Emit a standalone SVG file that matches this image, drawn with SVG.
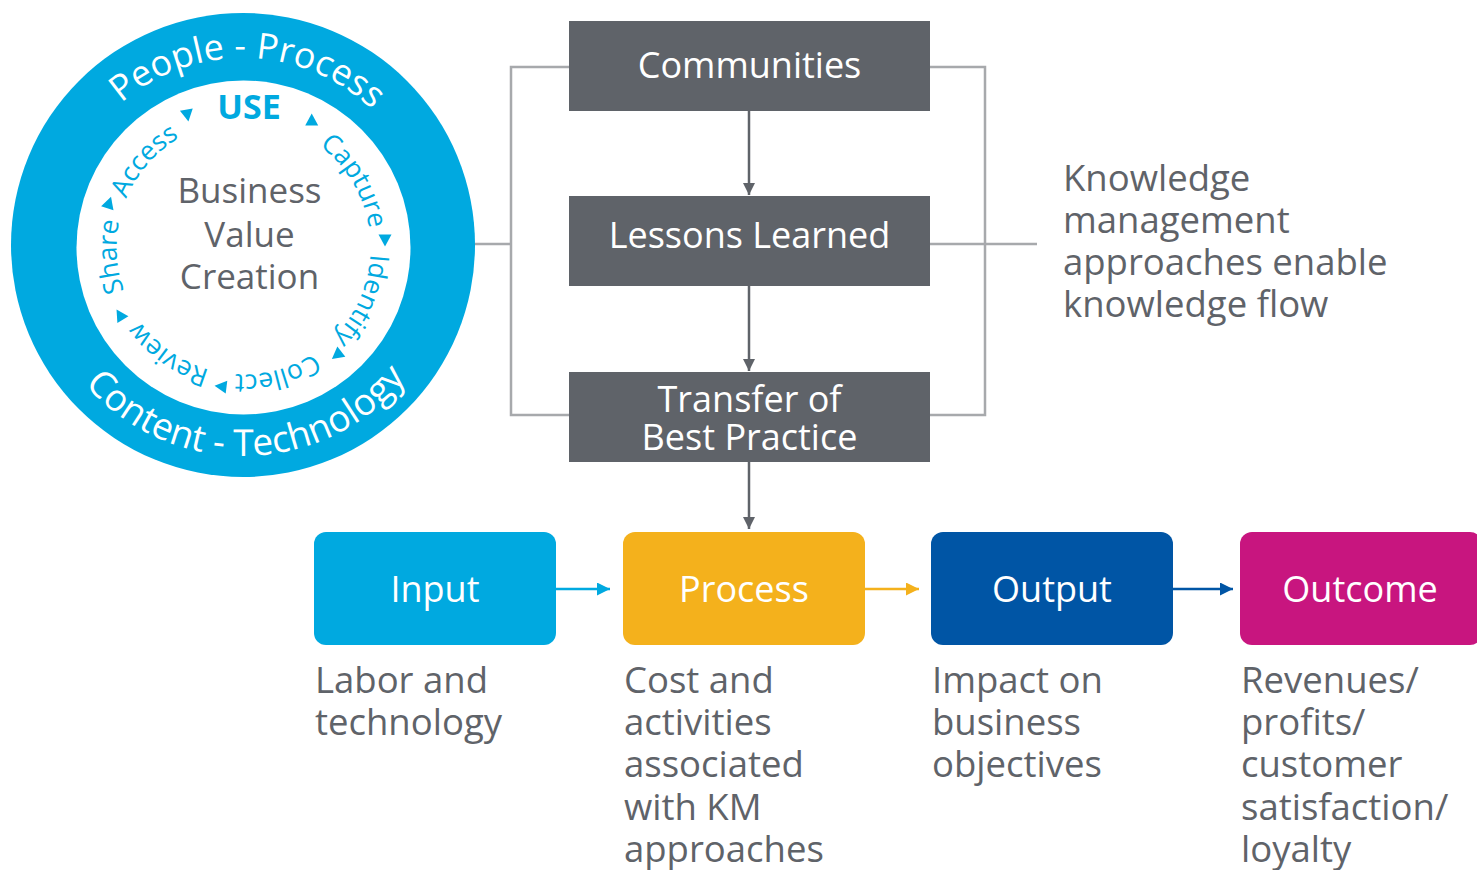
<svg xmlns="http://www.w3.org/2000/svg" width="1477" height="870" viewBox="0 0 1477 870">
  <style>
    text { font-family: "Open Sans", "Noto Sans", "Liberation Sans", sans-serif; }
    .ring { fill: #ffffff; }
    .inner { fill: #00a9e0; font-size: 26.5px; }
    .tri { fill: #00a9e0; }
    .gray-box { fill: #5f6369; }
    .box-label { fill: #ffffff; font-size: 36px; text-anchor: middle; }
    .desc { fill: #5f6369; font-size: 36.5px; }
    .bracket { fill: none; stroke: #a7a9ac; stroke-width: 2.5; }
    .flow { fill: none; stroke: #5f6369; stroke-width: 2.5; }
  </style>
  <defs>
    <path id="ringTop" d="M 243,432 A 187 187 0 1 1 243,58 A 187 187 0 1 1 243,432"/>
    <path id="ringBottom" d="M 243,34 A 211 211 0 1 0 243,456 A 211 211 0 1 0 243,34"/>
    <path id="innerPath" d="M 243.5,120.5 A 127 127 0 1 1 243.5,374.5 A 127 127 0 1 1 243.5,120.5"/>
    <marker id="arrGray" viewBox="0 0 10 10" refX="10" refY="5" markerWidth="17" markerHeight="12" markerUnits="userSpaceOnUse" orient="auto">
      <path d="M0,0 L10,5 L0,10 z" fill="#5f6369"/>
    </marker>
    <marker id="arrCyan" viewBox="0 0 10 10" refX="10" refY="5" markerWidth="19" markerHeight="13" markerUnits="userSpaceOnUse" orient="auto">
      <path d="M0,0 L10,5 L0,10 z" fill="#00a9e0"/>
    </marker>
    <marker id="arrOrange" viewBox="0 0 10 10" refX="10" refY="5" markerWidth="19" markerHeight="13" markerUnits="userSpaceOnUse" orient="auto">
      <path d="M0,0 L10,5 L0,10 z" fill="#f4b11c"/>
    </marker>
    <marker id="arrBlue" viewBox="0 0 10 10" refX="10" refY="5" markerWidth="19" markerHeight="13" markerUnits="userSpaceOnUse" orient="auto">
      <path d="M0,0 L10,5 L0,10 z" fill="#0055a5"/>
    </marker>
    <polygon id="triShape" points="6.5,0 -5.5,-6.5 -5.5,6.5"/>
  </defs>

  <rect width="1477" height="870" fill="#ffffff"/>

  <!-- Knowledge cycle circle -->
  <g id="km-cycle">
    <circle cx="243" cy="245" r="232" fill="#00a9e0"/>
    <circle cx="243.5" cy="247.5" r="167" fill="#ffffff"/>
    <text class="ring" font-size="36"><textPath href="#ringTop" startOffset="592" text-anchor="middle">People - Process</textPath></text>
    <text class="ring" font-size="37"><textPath href="#ringBottom" startOffset="666.6" text-anchor="middle">Content - Technology</textPath></text>
    <text x="249" y="119" fill="#00a9e0" font-size="34" font-weight="bold" text-anchor="middle">USE</text>
    <text class="inner"><textPath href="#innerPath" startOffset="130.8" text-anchor="middle">Capture</textPath></text>
    <text class="inner"><textPath href="#innerPath" startOffset="252.7" text-anchor="middle">Identify</textPath></text>
    <text class="inner"><textPath href="#innerPath" startOffset="365.7" text-anchor="middle">Collect</textPath></text>
    <text class="inner"><textPath href="#innerPath" startOffset="476.6" text-anchor="middle">Review</textPath></text>
    <text class="inner"><textPath href="#innerPath" startOffset="589.6" text-anchor="middle">Share</textPath></text>
    <text class="inner"><textPath href="#innerPath" startOffset="689.4" text-anchor="middle">Access</textPath></text>
    <use href="#triShape" class="tri" transform="translate(187.3,115) rotate(80)"/>
    <use href="#triShape" class="tri" transform="translate(311.7,120) rotate(-90)"/>
    <use href="#triShape" class="tri" transform="translate(385,240) rotate(90)"/>
    <use href="#triShape" class="tri" transform="translate(337,355) rotate(142)"/>
    <use href="#triShape" class="tri" transform="translate(221,386.5) rotate(187)"/>
    <use href="#triShape" class="tri" transform="translate(120,315) rotate(238)"/>
    <use href="#triShape" class="tri" transform="translate(109,203) rotate(288)"/>
    <text fill="#5f6369" font-size="35" text-anchor="middle"><tspan x="249.5" y="203">Business</tspan><tspan x="249.5" y="247">Value</tspan><tspan x="249.5" y="289">Creation</tspan></text>
  </g>

  <!-- Connectors -->
  <g id="connectors">
    <path class="bracket" d="M 475,244 L 511,244"/>
    <path class="bracket" d="M 569,67 L 511,67 L 511,415 L 569,415"/>
    <path class="bracket" d="M 930,67 L 985,67 L 985,415 L 930,415"/>
    <path class="bracket" d="M 930,244 L 1037,244"/>
    <line class="flow" x1="749" y1="111" x2="749" y2="195" marker-end="url(#arrGray)"/>
    <line class="flow" x1="749" y1="286" x2="749" y2="371" marker-end="url(#arrGray)"/>
    <line class="flow" x1="749" y1="462" x2="749" y2="529" marker-end="url(#arrGray)"/>
    <line x1="556" y1="589" x2="610" y2="589" stroke="#00a9e0" stroke-width="2.5" marker-end="url(#arrCyan)"/>
    <line x1="864" y1="589" x2="919" y2="589" stroke="#f4b11c" stroke-width="2.5" marker-end="url(#arrOrange)"/>
    <line x1="1172" y1="589" x2="1233" y2="589" stroke="#0055a5" stroke-width="2.5" marker-end="url(#arrBlue)"/>
  </g>

  <!-- KM approach nodes -->
  <g id="communities">
    <rect class="gray-box" x="569" y="21" width="361" height="90"/>
    <text class="box-label" x="749.5" y="78">Communities</text>
  </g>
  <g id="lessons-learned">
    <rect class="gray-box" x="569" y="196" width="361" height="90"/>
    <text class="box-label" x="749.5" y="248">Lessons Learned</text>
  </g>
  <g id="transfer-best-practice">
    <rect class="gray-box" x="569" y="372" width="361" height="90"/>
    <text class="box-label"><tspan x="749.5" y="412">Transfer of</tspan><tspan x="749.5" y="450">Best Practice</tspan></text>
  </g>

  <g id="knowledge-note">
    <text class="desc">
      <tspan x="1063" y="191">Knowledge</tspan>
      <tspan x="1063" y="233">management</tspan>
      <tspan x="1063" y="275">approaches enable</tspan>
      <tspan x="1063" y="317">knowledge flow</tspan>
    </text>
  </g>

  <!-- Value chain nodes -->
  <g id="input">
    <rect x="314" y="532" width="242" height="113" rx="12" fill="#00a9e0"/>
    <text class="box-label" x="435" y="602">Input</text>
    <text class="desc">
      <tspan x="315" y="693">Labor and</tspan>
      <tspan x="315" y="735">technology</tspan>
    </text>
  </g>
  <g id="process">
    <rect x="623" y="532" width="242" height="113" rx="12" fill="#f4b11c"/>
    <text class="box-label" x="744" y="602">Process</text>
    <text class="desc">
      <tspan x="624" y="693">Cost and</tspan>
      <tspan x="624" y="735">activities</tspan>
      <tspan x="624" y="777">associated</tspan>
      <tspan x="624" y="820">with KM</tspan>
      <tspan x="624" y="862">approaches</tspan>
    </text>
  </g>
  <g id="output">
    <rect x="931" y="532" width="242" height="113" rx="12" fill="#0055a5"/>
    <text class="box-label" x="1052" y="602">Output</text>
    <text class="desc">
      <tspan x="932" y="693">Impact on</tspan>
      <tspan x="932" y="735">business</tspan>
      <tspan x="932" y="777">objectives</tspan>
    </text>
  </g>
  <g id="outcome">
    <rect x="1240" y="532" width="242" height="113" rx="12" fill="#c8157f"/>
    <text class="box-label" x="1360" y="602">Outcome</text>
    <text class="desc">
      <tspan x="1241" y="693">Revenues/</tspan>
      <tspan x="1241" y="735">profits/</tspan>
      <tspan x="1241" y="777">customer</tspan>
      <tspan x="1241" y="820">satisfaction/</tspan>
      <tspan x="1241" y="862">loyalty</tspan>
    </text>
  </g>
</svg>
